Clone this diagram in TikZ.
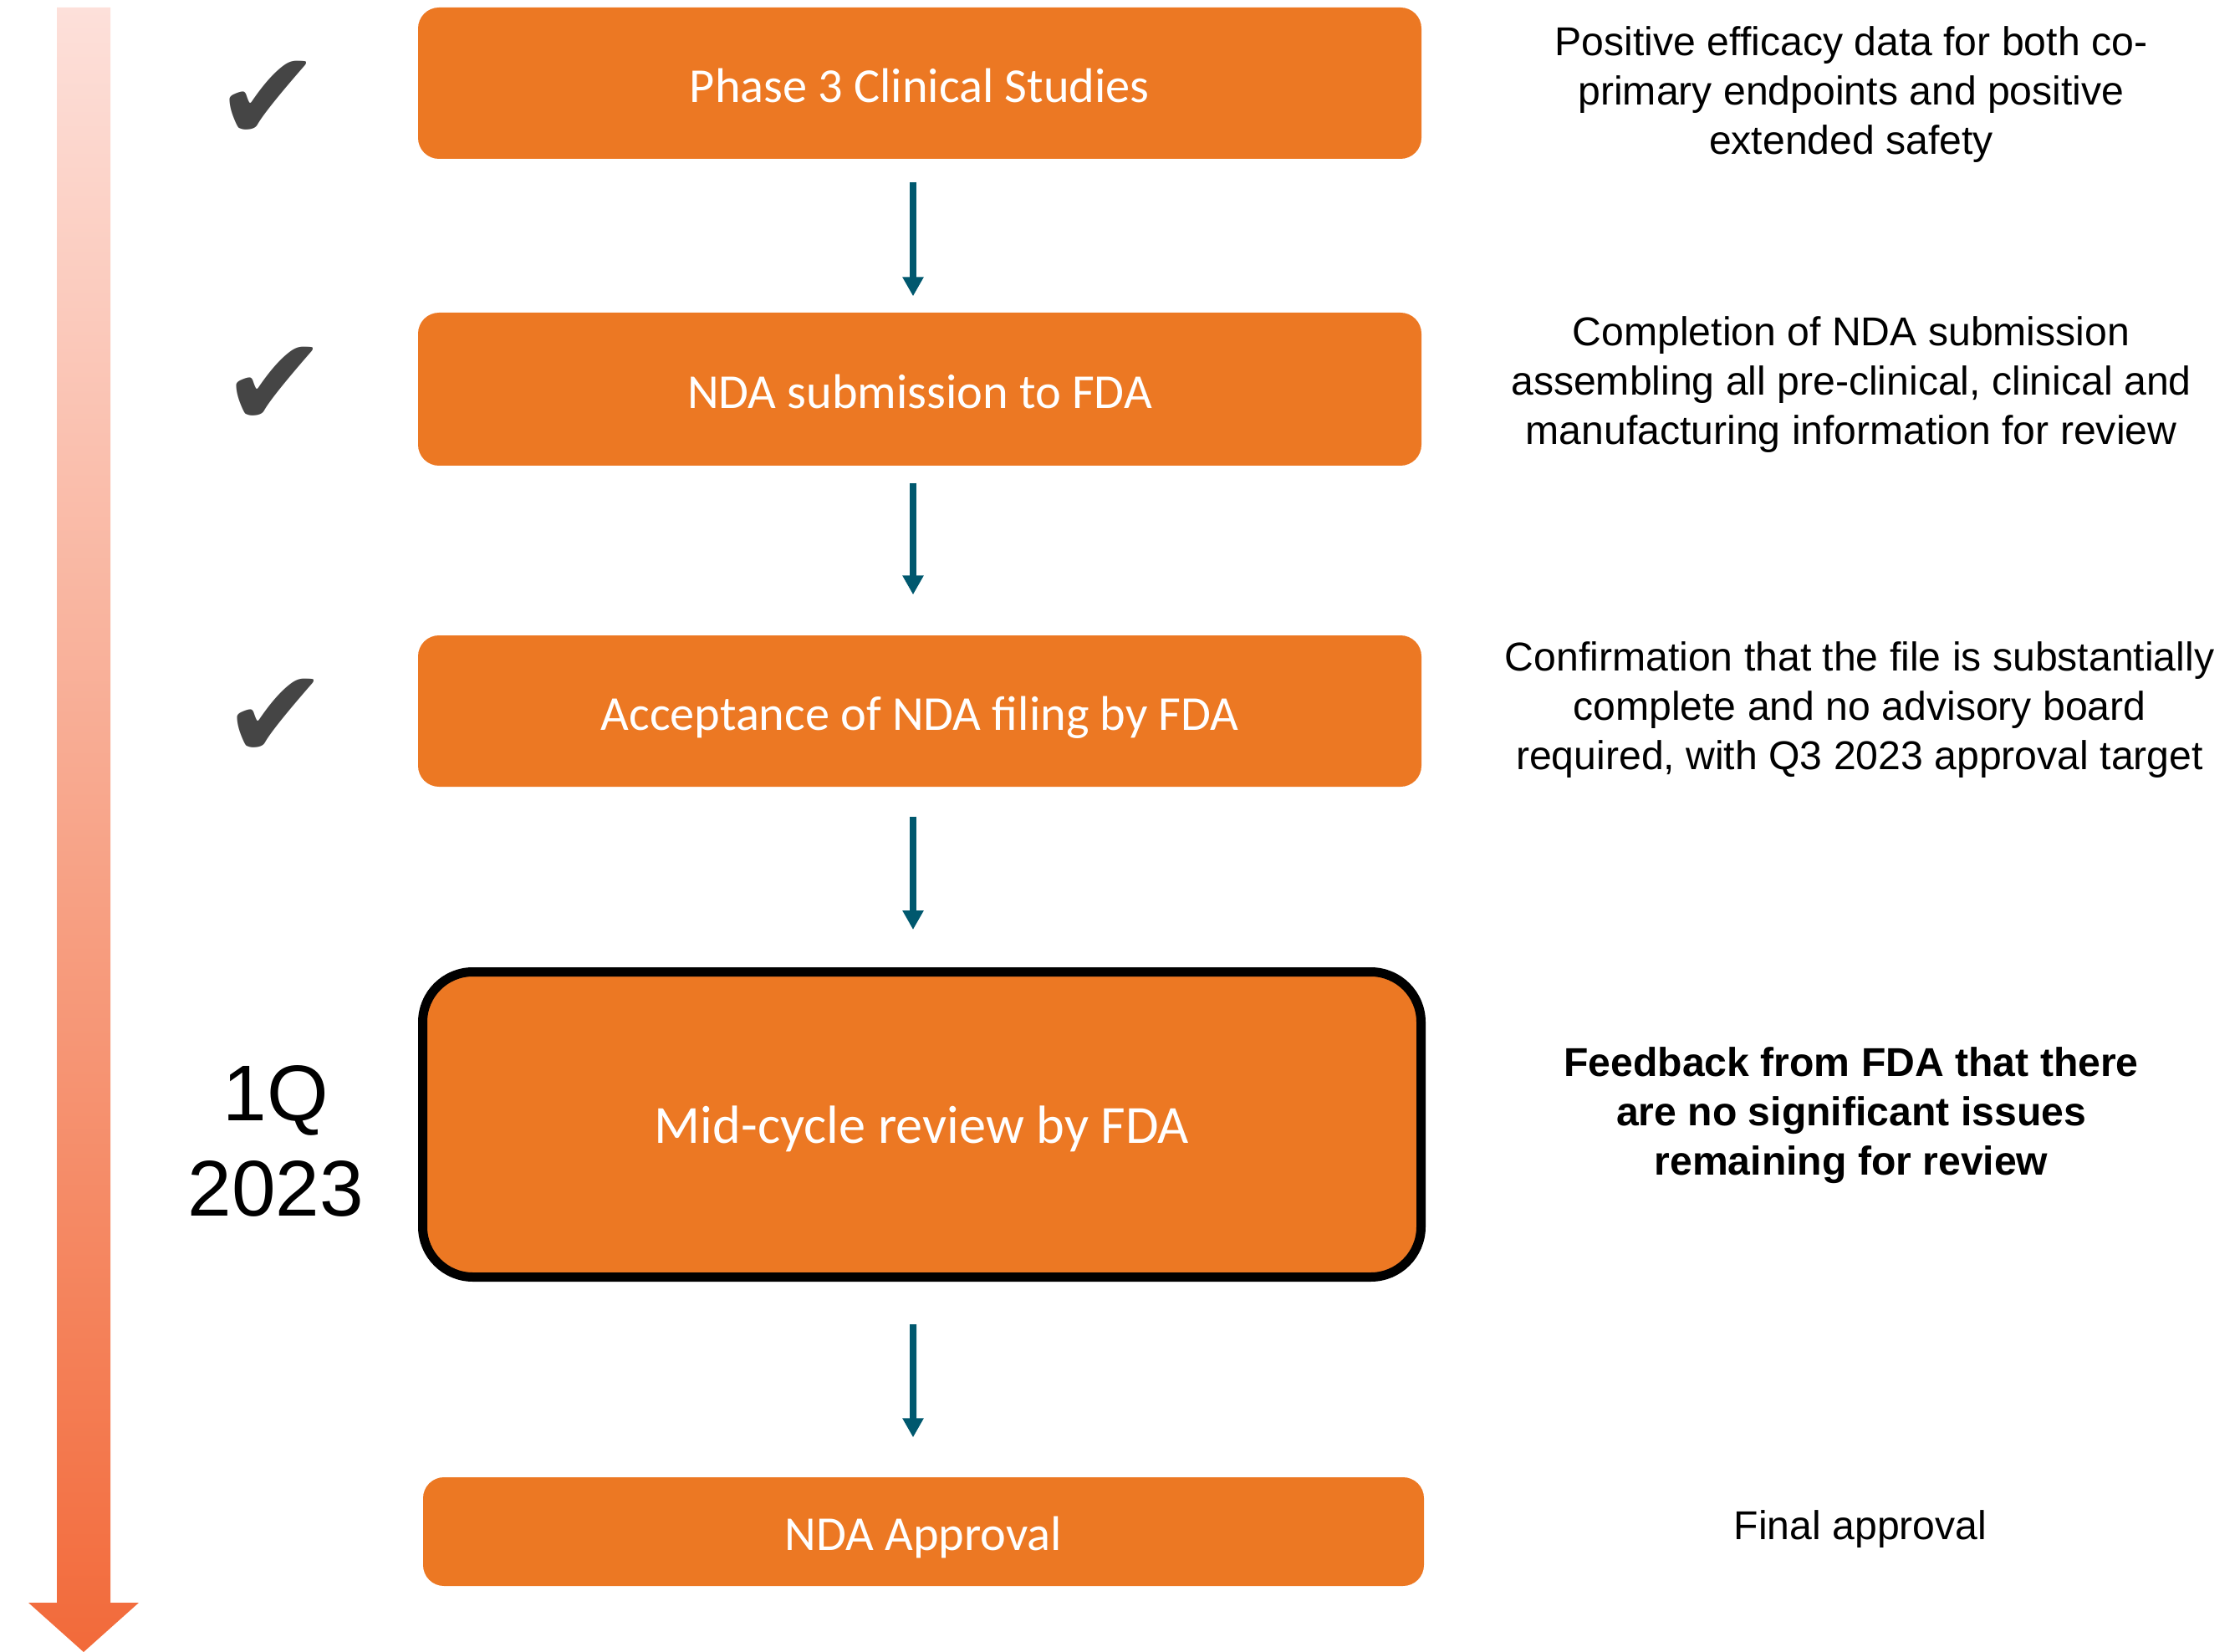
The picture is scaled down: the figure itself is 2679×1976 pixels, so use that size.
\documentclass[tikz,border=0pt]{standalone}
\usepackage{fontspec}
\usepackage{xcolor}
\usepackage{tikz}
\setmainfont{Liberation Sans}
\newfontfamily\boxfont{Carlito}
\newfontfamily\symfont{DejaVu Sans}
\definecolor{stageorange}{RGB}{236, 120, 35}
\definecolor{flowteal}{RGB}{0, 88, 110}
\definecolor{tickgray}{RGB}{69, 69, 69}
\definecolor{timetop}{RGB}{253, 224, 218}
\definecolor{timebottom}{RGB}{242, 106, 58}
\usetikzlibrary{arrows.meta,positioning}

\begin{document}
\begin{tikzpicture}[x=0.1mm, y=-0.1mm,
    stage/.style={rectangle, rounded corners=2.5mm, fill=stageorange, text=white, font=\boxfont\fontsize{16.6}{19}\selectfont, text height=16pt, text depth=3pt, minimum width=120mm, minimum height=18.1mm, inner sep=0pt},
    note/.style={align=center, font=\fontsize{13.7}{16.8}\selectfont},
    tick/.style={text=tickgray, font=\symfont\fontsize{43}{43}\selectfont, inner sep=0pt},
    flow/.style={-{Triangle[width=2.4mm, length=2.3mm]}, line width=0.8mm, flowteal}]
    \useasboundingbox (0,0) rectangle (2679,1976);

    % Timeline arrow
    \shade[top color=timetop, bottom color=timebottom] (68,9) -- (132,9) -- (132,1917) -- (166,1917) -- (100,1976) -- (34,1917) -- (68,1917) -- cycle;

    % Milestone boxes
    \node[stage] (phase) at (1100,99.5) {Phase 3 Clinical Studies};
    \node[stage, minimum height=18.3mm] (submit) at (1100,465.5) {NDA submission to FDA};
    \node[stage] (accept) at (1100,850.5) {Acceptance of NDA filing by FDA};
    \node[stage, draw=black, line width=1.1mm, rounded corners=6mm, minimum width=119.4mm, minimum height=36.5mm, font=\boxfont\fontsize{18.3}{21}\selectfont] (midcycle) at (1102.5,1345) {Mid-cycle review by FDA};
    \node[stage, minimum width=119.7mm, minimum height=13mm] (approval) at (1104.5,1832) {NDA Approval};

    % Arrows
    \draw[flow, shorten <=2.7mm, shorten >=1.9mm] ([xshift=-0.8mm]phase.south) -- ([xshift=-0.8mm]submit.north);
    \draw[flow, shorten <=2.0mm, shorten >=4.8mm] ([xshift=-0.8mm]submit.south) -- ([xshift=-0.8mm]accept.north);
    \draw[flow, shorten <=3.5mm, shorten >=4.5mm] ([xshift=-0.8mm]accept.south) -- ([xshift=-1.05mm]midcycle.north);
    \draw[flow, shorten <=5.1mm, shorten >=4.7mm] ([xshift=-1.05mm]midcycle.south) -- ([xshift=-1.25mm]approval.north);

    % Status marks
    \node[tick] (tickphase) at (321,121) {✔};
    \node[tick] (ticksubmit) at (329,463) {✔};
    \node[tick] (tickaccept) at (330,860) {✔};
    \node[align=center, font=\fontsize{26.9}{32.5}\selectfont] (quarter) at (330,1365) {1Q\\2023};

    % Descriptions
    \node[note] (phasenote) at (2214,113) {Positive efficacy data for both co-\\primary endpoints and positive\\extended safety};
    \node[note] (submitnote) at (2214,460) {Completion of NDA submission\\assembling all pre-clinical, clinical and\\manufacturing information for review};
    \node[note] (acceptnote) at (2224,849) {Confirmation that the file is substantially\\complete and no advisory board\\required, with Q3 2023 approval target};
    \node[note, font=\fontsize{13.7}{16.8}\selectfont\bfseries] (midnote) at (2214,1334) {Feedback from FDA that there\\are no significant issues\\remaining for review};
    \node[note] (approvalnote) at (2225,1829) {Final approval};
\end{tikzpicture}
\end{document}
